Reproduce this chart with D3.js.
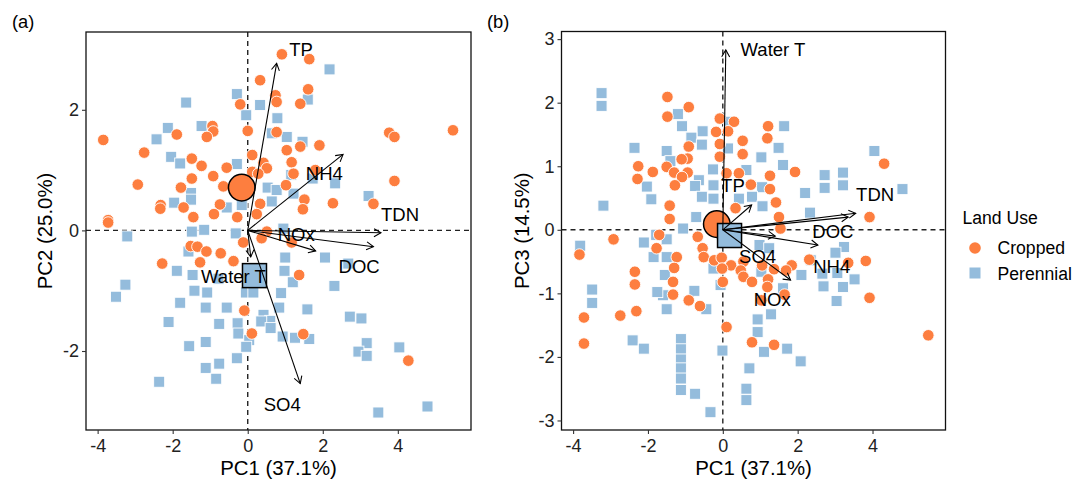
<!DOCTYPE html>
<html><head><meta charset="utf-8">
<script src="https://cdn.jsdelivr.net/npm/d3@7"></script>
<style>
body{margin:0;background:#fff;}
svg text{font-family:"Liberation Sans",Arial,Helvetica,sans-serif;}
</style></head>
<body><svg id="c" width="1075" height="479"></svg>
<script>
// ---------- DATA ----------
const groups = ["Cropped", "Perennial"];
const groupColors = ["#FD7E3F", "#94BCDC"];

// Panel (a): PC1 vs PC2 scores
const aCropped = [[0.91,2.92],[1.64,2.84],[0.33,2.49],[1.61,2.34],[0.74,2.24],[0.77,2.13],[1.40,2.10],[-0.20,2.09],
[-0.94,1.73],[-0.92,1.64],[-1.09,1.55],[0.00,1.65],[-1.89,1.59],[-3.85,1.50],[3.77,1.62],[3.91,1.55],[5.47,1.66],
[0.77,1.63],[1.91,1.41],[1.04,1.33],[1.40,1.39],[-2.76,1.29],[0.12,1.25],[-1.49,1.19],[-1.23,1.07],[-0.56,1.04],
[1.17,1.13],[0.42,1.12],[0.51,1.03],[0.12,0.97],[0.28,0.94],[-0.92,0.90],[-1.49,0.86],[1.22,0.94],[1.80,1.00],
[3.91,0.82],[-2.93,0.76],[-1.78,0.71],[-0.65,0.73],[1.02,0.75],[-2.32,0.42],[-2.33,0.36],[-1.71,0.38],[-0.74,0.43],
[0.33,0.44],[1.51,0.51],[1.47,0.35],[2.27,0.45],[3.35,0.44],[-3.72,0.17],[-3.72,0.13],[-1.45,0.22],[-0.90,0.27],
[-0.28,0.22],[0.24,0.27],[0.51,-0.02],[-0.12,-0.20],[0.37,-0.13],[1.17,-0.20],[-1.52,-0.26],[-1.34,-0.27],[-1.10,-0.35],
[-0.72,-0.38],[-0.38,-0.51],[-1.27,-0.53],[-2.28,-0.55],[1.37,-0.74],[-0.09,-1.33],[0.11,-1.71],[1.48,-1.72],[4.28,-2.16]];
const aPerennial = [[2.18,2.67],[-0.29,2.26],[0.33,2.08],[1.60,2.17],[-1.64,2.12],[-0.04,1.91],[0.79,1.86],[-2.13,1.70],
[-1.23,1.73],[-2.43,1.51],[0.64,1.61],[1.04,1.55],[1.46,1.47],[-2.04,1.22],[-1.80,1.11],[-0.29,1.10],[1.16,0.92],
[1.73,0.86],[2.33,0.78],[0.53,0.71],[0.77,0.67],[1.22,0.61],[3.22,0.57],[-1.51,0.62],[-1.51,0.51],[-1.96,0.46],
[0.64,0.48],[-0.56,0.38],[-0.16,0.42],[-3.21,-0.10],[-1.49,-0.02],[-1.16,0.01],[-0.32,-0.05],[0.95,0.03],[-1.58,-0.35],
[1.00,-0.45],[2.06,-0.45],[2.68,-0.55],[-1.89,-0.67],[-1.47,-0.74],[-0.78,-0.80],[0.98,-0.67],[2.31,-0.92],[-3.26,-0.90],
[-3.51,-1.10],[-1.42,-1.00],[-1.08,-1.03],[-0.05,-1.03],[0.15,-1.03],[0.89,-1.04],[1.20,-0.86],[-1.80,-1.20],[-1.12,-1.28],
[-0.56,-1.28],[0.84,-1.28],[1.59,-1.31],[-2.11,-1.52],[-0.76,-1.55],[-0.27,-1.54],[0.42,-1.40],[0.60,-1.50],[0.36,-1.51],
[2.72,-1.43],[3.03,-1.46],[-0.25,-1.71],[-1.12,-1.85],[-1.56,-1.92],[0.93,-1.76],[1.26,-1.78],[1.64,-1.80],[0.04,-1.82],
[-0.04,-1.93],[0.61,-1.62],[3.17,-1.87],[2.95,-2.01],[3.17,-2.08],[4.04,-1.94],[-0.29,-2.12],[-0.76,-2.21],[-1.12,-2.28],
[-0.84,-2.46],[-2.36,-2.51],[3.48,-3.02],[4.79,-2.92]];

// Panel (b): PC1 vs PC3 scores
const bCropped = [[-1.48,2.09],[-0.91,1.93],[-1.48,1.78],[-0.08,1.75],[0.30,1.70],[-0.18,1.54],[0.14,1.55],[1.21,1.63],
[1.19,1.44],[0.53,1.40],[-0.08,1.35],[-0.91,1.31],[0.53,1.19],[-0.08,1.15],[-0.94,1.12],[-1.10,1.11],[-2.26,1.00],
[4.31,1.04],[-1.87,0.91],[-1.50,0.99],[-1.30,0.90],[-0.94,0.90],[-1.09,0.83],[-2.28,0.80],[0.10,0.89],[0.43,0.89],
[1.26,0.85],[1.93,0.91],[-1.28,0.70],[0.75,0.71],[1.26,0.64],[1.42,0.43],[-1.42,0.38],[0.34,0.34],[1.50,0.20],
[-1.42,0.17],[1.54,0.02],[3.92,0.20],[-2.92,-0.15],[-3.83,-0.39],[-0.67,-0.11],[-1.70,-0.08],[-1.77,-0.29],[-0.54,-0.29],
[-0.51,-0.43],[-1.23,-0.43],[-0.23,-0.48],[-0.03,-0.44],[0.22,-0.56],[0.55,-0.50],[2.31,-0.47],[1.84,-0.56],[3.82,-0.49],
[3.35,-0.52],[-2.35,-0.66],[-1.30,-0.60],[-0.02,-0.61],[0.48,-0.64],[1.05,-0.56],[1.37,-0.62],[1.69,-0.64],[0.55,-0.74],
[0.78,-0.82],[1.21,-0.78],[0.00,-0.82],[-1.33,-0.82],[-2.35,-0.86],[1.19,-0.90],[1.65,-1.02],[3.92,-1.07],[-1.33,-1.02],
[-0.91,-1.11],[-0.61,-1.20],[1.03,-1.11],[-2.31,-1.28],[-3.71,-1.38],[-2.74,-1.35],[0.10,-1.53],[-3.71,-1.79],[0.78,-1.77],
[1.37,-1.81],[5.49,-1.66]];
const bPerennial = [[-3.24,2.15],[-3.24,1.95],[-1.20,1.82],[-1.09,1.63],[0.17,1.70],[1.64,1.63],[-0.54,1.55],[-0.84,1.45],
[-0.56,1.34],[-2.36,1.29],[-1.50,1.24],[1.49,1.29],[0.14,1.28],[1.03,1.14],[1.61,1.02],[4.05,1.24],[-1.40,1.08],
[-0.26,0.95],[0.63,0.94],[2.72,0.86],[3.21,0.90],[2.72,0.66],[3.21,0.70],[-0.64,0.78],[-0.25,0.70],[-2.03,0.68],
[-0.74,0.69],[1.05,0.67],[2.20,0.58],[4.80,0.64],[-1.91,0.48],[-0.56,0.52],[-0.25,0.49],[0.78,0.52],[1.06,0.37],
[0.43,0.49],[-3.19,0.38],[2.33,0.27],[-0.71,0.20],[-1.06,0.02],[-1.78,-0.08],[-2.11,-0.20],[-3.81,-0.25],[-1.50,-0.15],
[0.98,-0.24],[1.24,-0.29],[-1.85,-0.43],[-1.50,-0.43],[3.24,-0.27],[3.01,-0.36],[2.35,-0.48],[2.66,-0.69],[3.06,-0.68],
[3.52,-0.78],[2.10,-0.71],[-0.25,-0.61],[1.03,-0.66],[-1.55,-0.71],[2.69,-0.89],[3.21,-0.90],[1.61,-0.92],[3.04,-1.12],
[-3.49,-0.94],[-3.49,-1.15],[-1.60,-1.03],[-1.75,-0.98],[-0.76,-0.96],[-0.06,-0.87],[-0.44,-1.25],[-1.50,-1.25],
[1.29,-1.33],[0.93,-1.41],[0.93,-1.61],[-2.41,-1.74],[-2.11,-1.87],[-1.12,-1.72],[-1.12,-1.88],[-1.12,-2.04],[-1.12,-2.18],
[-1.12,-2.34],[-1.12,-2.52],[-0.74,-2.58],[-0.33,-2.87],[-0.01,-1.90],[0.71,-2.18],[1.10,-1.92],[1.72,-1.87],[2.08,-2.07],
[0.63,-2.50],[0.63,-2.68]];

// Group centroids [PC1, PC2, PC3]
const centroidCropped = [-0.16, 0.71, 0.09];
const centroidPerennial = [0.18, -0.75, -0.09];

// Variable loadings (arrow tips)
const variables = ["TP", "NH4", "TDN", "DOC", "NOx", "Water T", "SO4"];
const loadPC1 = [0.77, 2.54, 3.55, 3.35, 1.81, 0.08, 1.40];
const loadPC2 = [2.77, 1.26, -0.04, -0.27, -0.34, -0.44, -2.54];
const loadPC3 = [0.39, -0.24, 0.26, 0.20, -0.79, 2.83, -0.10];
// label positions (repelled)
const labA = [[1.42,3.00],[2.04,0.94],[4.06,0.27],[2.97,-0.60],[1.29,-0.07],[-0.38,-0.76],[0.92,-2.88]];
const labB = [[0.27,0.70],[2.91,-0.58],[4.07,0.56],[2.94,-0.02],[1.32,-1.10],[1.34,2.84],[0.93,-0.42]];

const xTicks = [-4, -2, 0, 2, 4];
const yTicksA = [-2, 0, 2];
const yTicksB = [-3, -2, -1, 0, 1, 2, 3];
const axisTitles = {a: ["PC1 (37.1%)", "PC2 (25.0%)"], b: ["PC1 (37.1%)", "PC3 (14.5%)"]};

// ---------- DRAW ----------
const svg = d3.select("#c");
const xDomain = [-4.31, 5.95];

function panel(cfg) {
  const x = d3.scaleLinear().domain(xDomain).range([cfg.left, cfg.right]);
  const y = d3.scaleLinear().domain(cfg.yDomain).range([cfg.bottom, cfg.top]);
  const g = svg.append("g");
  const clipId = "clip" + cfg.id;
  svg.append("clipPath").attr("id", clipId).append("rect")
    .attr("x", cfg.left).attr("y", cfg.top).attr("width", cfg.right - cfg.left).attr("height", cfg.bottom - cfg.top);
  const inner = g.append("g").attr("clip-path", `url(#${clipId})`);

  // reference lines
  inner.append("line").attr("x1", x(0)).attr("x2", x(0)).attr("y1", cfg.top).attr("y2", cfg.bottom)
    .attr("stroke", "#222").attr("stroke-width", 1.4).attr("stroke-dasharray", "5,4");
  inner.append("line").attr("y1", y(0)).attr("y2", y(0)).attr("x1", cfg.left).attr("x2", cfg.right)
    .attr("stroke", "#222").attr("stroke-width", 1.4).attr("stroke-dasharray", "5,4");

  const s = 11;
  inner.selectAll(".sq").data(cfg.per).join("rect")
    .attr("x", d => x(d[0]) - s / 2).attr("y", d => y(d[1]) - s / 2)
    .attr("width", s).attr("height", s)
    .attr("fill", groupColors[1]).attr("stroke", "#fff").attr("stroke-width", 0.9);
  inner.selectAll(".ci").data(cfg.crop).join("circle")
    .attr("cx", d => x(d[0])).attr("cy", d => y(d[1])).attr("r", 5.8)
    .attr("fill", groupColors[0]).attr("stroke", "#fff").attr("stroke-width", 0.9);

  // centroids
  inner.append("circle").attr("cx", x(centroidCropped[0])).attr("cy", y(cfg.cc)).attr("r", 13.3)
    .attr("fill", groupColors[0]).attr("stroke", "#000").attr("stroke-width", 1.5);
  const S = 24;
  inner.append("rect").attr("x", x(centroidPerennial[0]) - S / 2).attr("y", y(cfg.cp) - S / 2)
    .attr("width", S).attr("height", S)
    .attr("fill", groupColors[1]).attr("stroke", "#000").attr("stroke-width", 1.5);

  // arrows
  variables.forEach((v, i) => {
    const x0 = x(0), y0 = y(0), x1 = x(loadPC1[i]), y1 = y(cfg.load[i]);
    inner.append("line").attr("x1", x0).attr("y1", y0).attr("x2", x1).attr("y2", y1)
      .attr("stroke", "#000").attr("stroke-width", 1.1);
    const ang = Math.atan2(y1 - y0, x1 - x0), L = 8, a = Math.PI / 6;
    inner.append("path")
      .attr("d", `M${x1 - L * Math.cos(ang - a)},${y1 - L * Math.sin(ang - a)}L${x1},${y1}L${x1 - L * Math.cos(ang + a)},${y1 - L * Math.sin(ang + a)}`)
      .attr("fill", "none").attr("stroke", "#000").attr("stroke-width", 1.1);
  });
  variables.forEach((v, i) => {
    inner.append("text").attr("x", x(cfg.lab[i][0])).attr("y", y(cfg.lab[i][1]))
      .attr("text-anchor", "middle").attr("dominant-baseline", "central")
      .attr("font-size", 18.5).attr("fill", "#000").text(v);
  });

  // frame
  g.append("rect").attr("x", cfg.left).attr("y", cfg.top).attr("width", cfg.right - cfg.left).attr("height", cfg.bottom - cfg.top)
    .attr("fill", "none").attr("stroke", "#111").attr("stroke-width", 1.3);

  // axes
  const ax = g.append("g").attr("transform", `translate(0,${cfg.bottom})`)
    .call(d3.axisBottom(x).tickValues(xTicks).tickSize(4).tickPadding(5).tickFormat(d3.format("d")));
  const ay = g.append("g").attr("transform", `translate(${cfg.left},0)`)
    .call(d3.axisLeft(y).tickValues(cfg.yTicks).tickSize(4).tickPadding(3).tickFormat(d3.format("d")));
  [ax, ay].forEach(a => {
    a.select(".domain").remove();
    a.selectAll(".tick line").attr("stroke", "#333").attr("stroke-width", 1.1);
    a.selectAll(".tick text").attr("font-size", 18).attr("fill", "#222")
      .attr("font-family", "Liberation Sans, Arial, sans-serif")
      .text(d => d < 0 ? "-" + Math.abs(d) : d);
  });

  g.append("text").attr("x", (cfg.left + cfg.right) / 2).attr("y", 475)
    .attr("text-anchor", "middle").attr("font-size", 20.4).attr("fill", "#000").text(cfg.titles[0]);
  g.append("text").attr("transform", `translate(${cfg.left - cfg.ytOff},${(cfg.top + cfg.bottom) / 2}) rotate(-90)`)
    .attr("text-anchor", "middle").attr("font-size", 20.4).attr("fill", "#000").text(cfg.titles[1]);
  g.append("text").attr("x", cfg.tagX).attr("y", 28).attr("font-size", 18.3).attr("fill", "#000").text(cfg.tag);
}

panel({id: "a", left: 86, right: 471, top: 32, bottom: 430, yDomain: [-3.31, 3.29], yTicks: yTicksA,
  crop: aCropped, per: aPerennial, cc: centroidCropped[1], cp: centroidPerennial[1], load: loadPC2, lab: labA,
  titles: axisTitles.a, tag: "(a)", tagX: 12, ytOff: 34});
panel({id: "b", left: 561.5, right: 945.5, top: 31.5, bottom: 430, yDomain: [-3.15, 3.12], yTicks: yTicksB,
  crop: bCropped, per: bPerennial, cc: centroidCropped[2], cp: centroidPerennial[2], load: loadPC3, lab: labB,
  titles: axisTitles.b, tag: "(b)", tagX: 487, ytOff: 33});

// legend
const lg = svg.append("g");
lg.append("text").attr("x", 962.5).attr("y", 224).attr("font-size", 17.6).attr("fill", "#000").text("Land Use");
lg.append("circle").attr("cx", 975).attr("cy", 248).attr("r", 5.8).attr("fill", groupColors[0]);
lg.append("rect").attr("x", 969.5).attr("y", 267.5).attr("width", 11).attr("height", 11).attr("fill", groupColors[1]);
lg.append("text").attr("x", 997.5).attr("y", 254).attr("font-size", 17.6).attr("fill", "#000").text(groups[0]);
lg.append("text").attr("x", 997.5).attr("y", 279.5).attr("font-size", 17.6).attr("fill", "#000").text(groups[1]);
</script></body></html>
